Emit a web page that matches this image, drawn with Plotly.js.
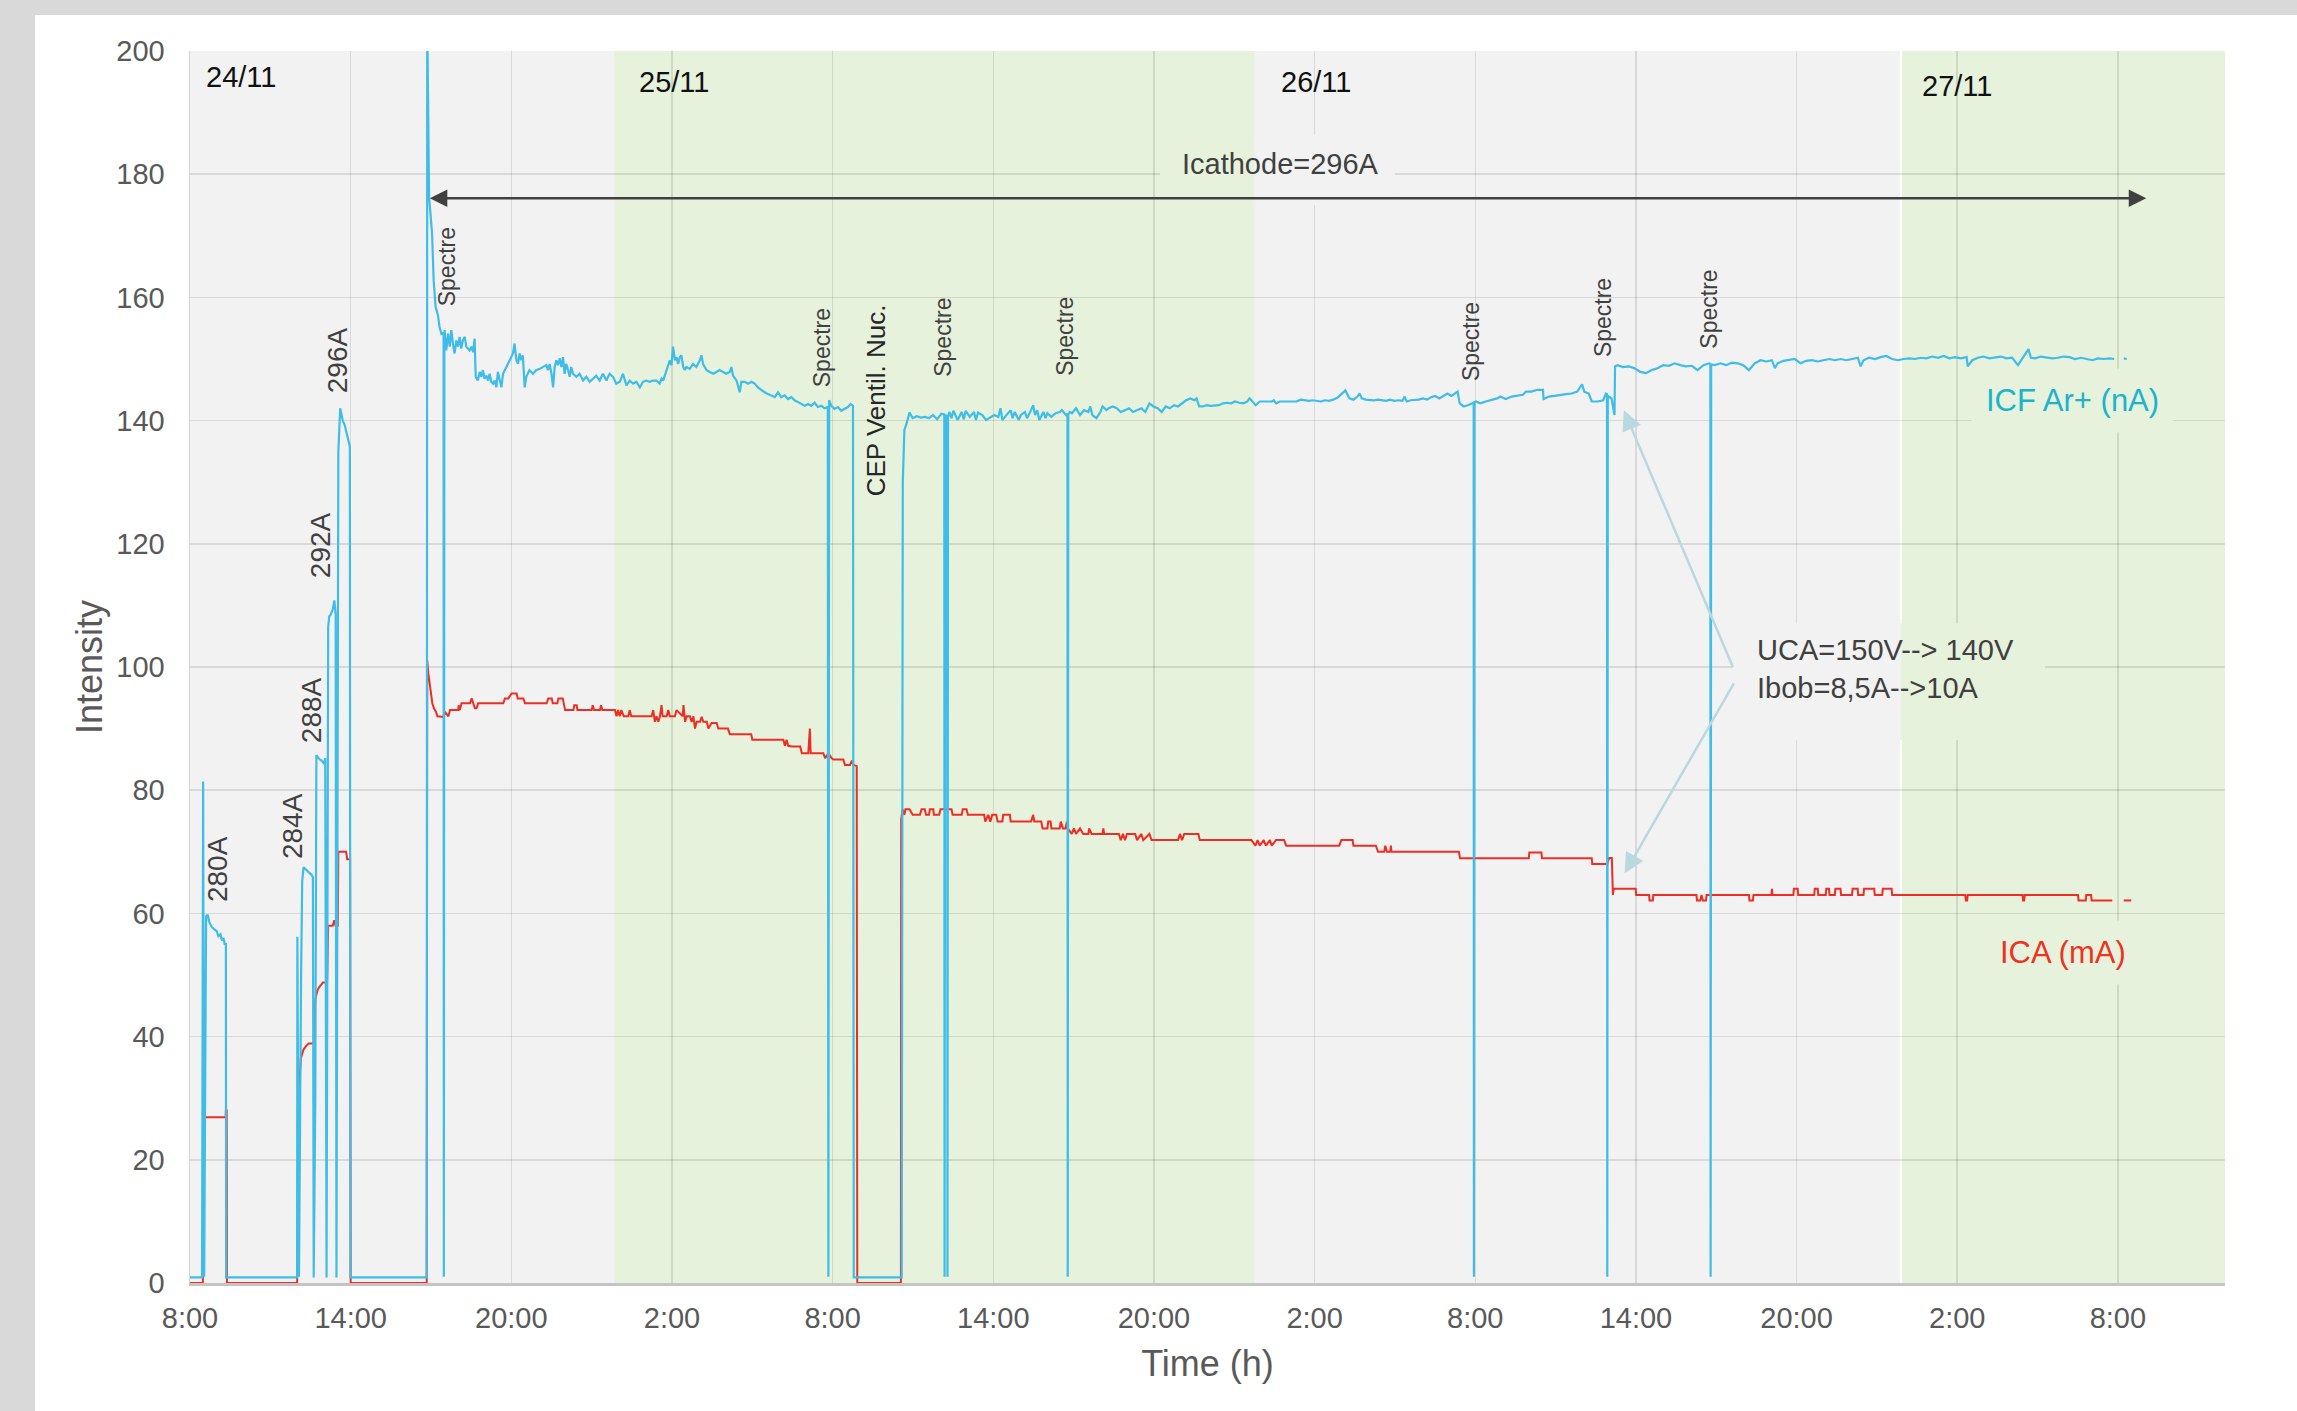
<!DOCTYPE html>
<html>
<head>
<meta charset="utf-8">
<script src="https://cdn.plot.ly/plotly-3.0.1.min.js"></script>
<style>
  html, body { margin: 0; padding: 0; background: #d9d9d9; width: 2297px; height: 1411px; overflow: hidden; }
  #chart { position: absolute; left: 35px; top: 15px; width: 2262px; height: 1396px; background: #ffffff; }
</style>
</head>
<body>
<div id="chart"></div>
<script>
// ---------------- DATA (hours since 24/11 00:00) ----------------
const tickHours = [8, 14, 20, 26, 32, 38, 44, 50, 56, 62, 68, 74, 80];
const tickLabels = ['8:00', '14:00', '20:00', '2:00', '8:00', '14:00', '20:00', '2:00', '8:00', '14:00', '20:00', '2:00', '8:00'];

const dayLabels = ['24/11', '25/11', '26/11', '27/11'];
const dayLabelHours = [9.9, 26.08, 50.05, 73.99];
const dayLabelValues = [195.8, 195.0, 195.0, 194.3];

const cathodeLabels = ['280A', '284A', '288A', '292A', '296A'];
const cathodeLabelHours = [9.01, 11.85, 12.52, 12.86, 13.49];
const cathodeLabelValues = [67.2, 74.2, 93.0, 119.8, 149.8];

const spectreHours = [17.60, 31.60, 36.12, 40.68, 55.84, 60.77, 64.75];
const spectreValues = [164.9, 151.9, 153.6, 153.6, 152.9, 156.8, 158.1];

// day bands (green)
const greenBands = [[23.85, 47.75], [71.9, 84]];

// ICF Ar+ (nA) : [hour, value]
const icfSeries = [
[8.0,0.9],[8.45,0.9],[8.49,81.4],[8.53,1.0],[8.6,59.5],[8.66,59.8],[8.72,58.6],[8.81,57.8],[8.91,57.4],[9.0,57.1],[9.06,56.3],[9.14,56.6],[9.19,55.6],[9.25,56.0],[9.3,54.9],[9.34,55.2],[9.35,0.9],
[12.0,0.9],[12.01,56.2],[12.07,1.0],[12.15,50.5],[12.19,65.2],[12.24,67.5],[12.34,67.0],[12.43,66.7],[12.53,66.3],[12.59,65.9],[12.62,0.9],[12.68,30],[12.72,85.7],[12.82,85.1],[12.91,84.8],[13.01,84.3],[13.05,85.2],[13.1,0.9],
[13.16,106.5],[13.2,108.2],[13.25,108.5],[13.33,109.3],[13.39,110.8],[13.44,108.6],[13.47,0.9],[13.54,135],[13.61,142.0],[13.66,140.8],[13.71,139.9],[13.77,139.4],[13.85,138.0],[13.92,136.4],[13.97,135.8],[13.99,0.9],
[16.84,0.9],[16.86,205],[16.93,176.3],[17.04,170.4],[17.10,162.8],[17.17,158.5],[17.26,157.1],[17.32,155.2],[17.39,154.1],[17.47,154.3],[17.48,1.0],[17.50,153.8],[17.51,154.7],[17.57,151.4],[17.64,154.1],[17.70,152.0],[17.76,154.7],[17.82,152.5],[17.88,150.9],[17.95,153.0],[18.01,152.0],[18.07,153.6],[18.13,151.7],[18.19,153.0],[18.26,153.6],[18.32,152.0],[18.38,151.7],[18.44,151.4],[18.51,152.0],[18.57,151.1],[18.63,153.3],[18.67,147.1],[18.75,146.5],[18.82,147.9],[18.88,147.1],[18.94,148.2],[19.00,146.8],[19.07,147.3],[19.13,146.5],[19.19,147.6],[19.25,146.3],[19.32,146.0],[19.38,146.5],[19.44,145.4],[19.50,147.9],[19.56,146.8],[19.63,145.4],[19.69,147.6],[19.75,148.2],[19.81,148.7],[19.88,149.2],[19.94,149.8],[20.06,150.9],[20.12,152.5],[20.19,149.8],[20.25,149.2],[20.31,150.9],[20.37,149.8],[20.43,150.6],[20.50,145.4],[20.56,147.1],[20.62,147.6],[20.68,148.2],[20.81,147.6],[20.93,148.2],[21.06,148.4],[21.18,148.7],[21.31,149.0],[21.37,148.2],[21.43,149.2],[21.50,147.6],[21.56,145.4],[21.62,148.7],[21.68,149.8],[21.74,149.0],[21.81,150.1],[21.87,148.7],[21.93,150.3],[21.99,147.6],[22.05,149.2],[22.12,148.2],[22.18,147.1],[22.24,148.7],[22.30,147.6],[22.43,147.1],[22.55,147.6],[22.68,146.5],[22.80,147.1],[22.93,146.3],[23.05,146.8],[23.17,147.3],[23.30,146.5],[23.42,147.6],[23.55,146.5],[23.67,147.6],[23.80,147.1],[23.92,146.0],[24.05,146.3],[24.17,147.6],[24.30,145.7],[24.42,146.5],[24.55,146.0],[24.67,146.3],[24.80,145.4],[24.92,146.3],[25.04,146.5],[25.17,146.3],[25.29,146.5],[25.42,146.5],[25.54,146.0],[25.61,146.8],[25.67,146.5],[25.79,148.2],[25.86,149.2],[25.92,149.8],[25.98,149.0],[26.04,152.0],[26.11,149.8],[26.17,150.3],[26.23,149.2],[26.29,150.3],[26.35,150.6],[26.42,148.7],[26.48,148.2],[26.54,148.7],[26.66,148.4],[26.79,149.2],[26.91,148.7],[27.04,149.8],[27.10,150.6],[27.16,149.2],[27.29,148.2],[27.41,147.9],[27.54,147.6],[27.66,147.9],[27.78,148.2],[27.91,147.9],[28.03,147.6],[28.16,147.9],[28.22,148.7],[28.28,147.3],[28.41,146.5],[28.53,144.6],[28.59,146.3],[28.72,146.3],[28.84,146.0],[28.97,146.3],[29.09,146.0],[29.21,145.4],[29.34,144.9],[29.46,144.6],[29.59,144.3],[29.71,144.1],[29.84,143.8],[29.96,144.6],[30.08,143.8],[30.21,144.1],[30.33,143.5],[30.46,143.8],[30.58,143.3],[30.71,143.0],[30.83,142.7],[30.96,142.4],[31.08,142.7],[31.20,142.4],[31.33,142.9],[31.45,142.2],[31.58,142.4],[31.70,142.0],[31.82,142.2],[31.84,1.0],[31.87,143.3],[31.95,142.4],[32.07,141.9],[32.20,142.2],[32.32,141.6],[32.45,141.9],[32.57,142.2],[32.67,142.7],[32.76,142.4],[32.79,0.9],
[34.58,0.9],[34.62,130],[34.68,138.5],[34.76,139.5],[34.87,141.3],[34.99,140.4],[35.14,140.7],[35.29,140.5],[35.44,140.6],[35.60,140.4],[35.75,140.9],[35.90,140.2],[36.06,141.1],[36.17,141.0],[36.18,1.0],[36.21,140.8],[36.28,140.8],[36.29,1.0],[36.31,140.5],[36.36,141.4],[36.44,140.4],[36.51,141.6],[36.67,140.1],[36.82,141.4],[36.90,140.2],[36.97,141.6],[37.12,140.6],[37.28,141.4],[37.35,140.1],[37.43,141.3],[37.59,140.9],[37.73,140.1],[37.89,140.5],[38.04,140.9],[38.19,140.6],[38.27,142.0],[38.34,140.1],[38.50,140.9],[38.65,141.7],[38.72,140.4],[38.80,141.4],[38.95,140.1],[39.03,140.9],[39.18,141.4],[39.26,140.4],[39.41,141.7],[39.49,142.5],[39.56,140.9],[39.64,141.7],[39.72,140.1],[39.87,141.4],[39.95,140.4],[40.02,141.2],[40.17,140.6],[40.33,141.2],[40.48,141.4],[40.56,141.7],[40.71,140.9],[40.77,141.1],[40.78,1.0],[40.80,141.0],[40.86,141.4],[40.94,141.2],[41.09,142.0],[41.24,140.9],[41.39,141.7],[41.55,141.4],[41.62,142.3],[41.70,140.9],[41.85,140.4],[42.00,141.4],[42.08,142.3],[42.23,141.7],[42.31,142.0],[42.46,142.3],[42.61,142.0],[42.76,141.4],[42.92,141.7],[43.07,142.0],[43.22,141.4],[43.38,141.7],[43.53,142.0],[43.68,141.4],[43.83,142.8],[43.98,142.3],[44.14,142.0],[44.29,141.4],[44.44,142.3],[44.59,142.0],[44.75,142.5],[44.90,142.3],[45.05,142.8],[45.20,143.3],[45.36,143.6],[45.51,143.3],[45.59,143.6],[45.69,142.3],[45.82,142.3],[45.97,142.5],[46.12,142.4],[46.27,142.5],[46.42,142.5],[46.58,142.8],[46.73,142.9],[46.88,142.8],[47.03,143.1],[47.19,142.9],[47.34,142.8],[47.49,143.1],[47.57,143.6],[47.64,143.3],[47.80,142.5],[47.95,143.1],[48.10,143.1],[48.25,143.2],[48.40,143.1],[48.48,143.3],[48.56,142.8],[48.71,143.1],[48.86,143.1],[49.01,143.1],[49.17,143.2],[49.32,143.1],[49.48,143.4],[49.63,143.3],[49.78,143.2],[49.93,143.3],[50.08,143.2],[50.24,143.1],[50.39,143.3],[50.54,143.2],[50.69,143.4],[50.85,143.7],[51.00,144.3],[51.15,144.9],[51.23,144.2],[51.30,143.6],[51.45,143.4],[51.60,143.9],[51.68,144.4],[51.76,143.6],[51.91,143.4],[52.06,143.3],[52.21,143.3],[52.37,143.4],[52.52,143.3],[52.67,143.2],[52.82,143.4],[52.98,143.2],[53.13,143.3],[53.28,143.2],[53.36,143.9],[53.44,143.1],[53.59,143.3],[53.74,143.3],[53.89,143.4],[54.05,143.6],[54.20,143.4],[54.35,143.8],[54.50,144.0],[54.66,143.6],[54.81,144.0],[54.96,144.4],[55.11,144.0],[55.27,144.4],[55.34,144.7],[55.42,142.8],[55.57,142.3],[55.72,142.5],[55.87,142.8],[55.94,142.9],[55.95,1.0],[55.97,143.0],[56.03,143.1],[56.18,142.8],[56.39,143.1],[56.61,143.3],[56.82,143.6],[56.93,143.9],[57.14,143.5],[57.36,143.9],[57.57,144.0],[57.78,144.2],[57.89,144.7],[58.10,144.7],[58.32,145.0],[58.53,145.0],[58.55,143.5],[58.75,143.9],[58.96,144.0],[59.17,144.2],[59.39,144.3],[59.60,144.4],[59.81,144.7],[59.99,145.9],[60.07,144.7],[60.24,144.4],[60.35,143.1],[60.56,143.1],[60.78,143.3],[60.88,144.4],[60.92,144.3],[60.93,1.0],[60.95,144.0],[61.09,143.6],[61.20,140.9],[61.22,148.8],[61.31,149.0],[61.52,148.7],[61.74,148.8],[61.95,148.5],[62.16,147.9],[62.38,147.7],[62.59,148.2],[62.80,148.5],[63.02,149.0],[63.23,148.9],[63.45,149.3],[63.66,149.0],[63.87,148.8],[64.09,148.9],[64.30,148.2],[64.52,149.0],[64.73,149.3],[64.78,149.2],[64.79,1.0],[64.81,149.1],[64.94,149.0],[65.16,149.3],[65.37,149.0],[65.58,149.4],[65.80,149.3],[66.01,149.0],[66.22,148.2],[66.44,149.3],[66.65,149.8],[66.87,149.6],[67.08,149.8],[67.19,148.5],[67.29,149.3],[67.51,149.7],[67.72,149.8],[67.93,150.0],[68.15,149.3],[68.36,149.7],[68.58,149.8],[68.79,149.6],[69.00,149.8],[69.22,150.0],[69.43,149.8],[69.65,150.0],[69.86,149.8],[70.07,150.0],[70.29,150.2],[70.39,148.8],[70.50,149.8],[70.71,150.2],[70.93,150.0],[71.14,150.3],[71.35,150.5],[71.57,150.0],[71.78,149.8],[72.00,150.0],[72.21,150.1],[72.42,150.0],[72.64,150.2],[72.85,150.1],[73.06,150.4],[73.28,150.2],[73.49,150.5],[73.71,150.1],[73.92,150.3],[74.13,150.1],[74.35,150.3],[74.39,148.8],[74.56,149.8],[74.77,150.2],[74.98,150.4],[75.20,150.1],[75.41,150.3],[75.63,150.4],[75.84,150.1],[76.05,150.2],[76.27,149.0],[76.48,150.3],[76.66,151.6],[76.75,150.2],[76.91,150.1],[77.12,150.4],[77.34,150.3],[77.55,150.1],[77.76,150.2],[77.98,150.4],[78.19,150.3],[78.40,150.0],[78.62,150.2],[78.83,150.0],[79.05,149.8],[79.26,150.1],[79.47,150.0],[79.69,150.1],[79.86,150.0],[80.0,null],[80.22,150.1],[80.33,150.0]
];

// ICA (mA) : [hour, value]
const icaSeries = [
[8.0,0],[8.48,0],[8.49,25.8],[8.57,26.9],[9.33,26.9],[9.34,28.0],[9.37,28.0],[9.38,0],[12.0,0],[12.05,29.8],[12.14,36.5],[12.24,37.9],[12.34,38.5],[12.43,38.9],[12.62,38.9],[12.68,46.0],[12.76,47.5],[12.82,48.0],[12.97,48.8],[13.12,48.8],[13.16,58.0],[13.33,58.0],[13.39,58.9],[13.44,58.0],[13.52,58.0],[13.54,70.0],[13.83,70.0],[13.87,68.8],[13.98,68.8],[14.0,0],
[16.84,0],[16.86,101.1],[16.90,99.0],[16.99,96.0],[17.05,94.1],[17.11,93.3],[17.19,92.7],[17.24,92.0],[17.34,91.9],[17.46,91.9],[17.52,92.7],[17.65,92.0],[17.71,93.0],[18.02,93.0],[18.03,93.8],[18.08,93.0],[18.14,94.1],[18.46,94.1],[18.52,94.9],[18.58,94.1],[18.64,93.3],[18.70,93.3],[18.76,94.1],[19.70,94.1],[19.76,94.9],[19.89,94.9],[20.01,95.7],[20.20,95.7],[20.24,94.9],[20.45,94.9],[20.51,94.1],[21.32,94.1],[21.38,94.9],[21.51,94.9],[21.55,94.1],[21.72,94.1],[21.76,94.9],[21.92,94.9],[22.01,93.0],[22.32,93.0],[22.35,93.8],[22.44,93.8],[22.47,93.0],[23.00,93.0],[23.04,93.8],[23.09,93.0],[23.31,93.0],[23.35,93.8],[23.40,93.0],[23.87,93.0],[23.93,92.0],[23.99,93.0],[24.05,92.0],[24.11,93.0],[24.20,92.0],[24.37,92.0],[24.42,93.0],[24.48,92.0],[25.24,92.0],[25.30,93.0],[25.36,91.1],[25.42,92.0],[25.49,91.1],[25.55,92.0],[25.61,93.8],[25.65,92.0],[25.80,92.0],[25.86,93.0],[25.92,92.0],[26.11,92.0],[26.17,93.0],[26.40,92.0],[26.43,93.8],[26.49,91.1],[26.55,92.0],[26.67,92.0],[26.73,91.1],[26.80,92.0],[26.86,90.0],[26.92,91.1],[27.05,91.1],[27.11,91.9],[27.17,91.1],[27.30,91.1],[27.36,90.0],[27.48,90.9],[27.67,90.9],[27.73,90.0],[28.09,90.0],[28.16,89.1],[28.96,89.1],[29.00,88.2],[30.16,88.2],[30.22,87.2],[30.28,88.2],[30.34,87.2],[30.48,87.1],[30.79,87.1],[30.85,86.0],[31.09,86.0],[31.15,90.0],[31.18,86.0],[31.65,86.0],[31.72,85.2],[31.84,86.0],[31.96,85.2],[32.02,85.0],[32.40,85.0],[32.46,84.1],[32.65,84.1],[32.72,84.8],[32.77,84.1],[32.90,83.9],[32.92,0],
[34.55,0],[34.56,75.2],[34.61,76.9],[34.68,76.0],[34.72,76.9],[34.87,76.9],[34.99,76.0],[35.26,76.0],[35.32,76.9],[35.44,76.9],[35.49,76.0],[35.60,76.0],[35.63,76.9],[35.76,76.9],[35.78,76.0],[35.98,76.0],[36.03,76.9],[36.44,76.9],[36.48,76.0],[36.82,76.0],[36.86,76.9],[37.00,76.9],[37.05,76.0],[37.66,76.0],[37.70,74.9],[37.81,76.0],[37.89,74.9],[37.96,76.0],[38.11,76.0],[38.16,74.9],[38.34,74.9],[38.37,76.0],[38.62,76.0],[38.65,74.9],[39.41,74.9],[39.49,76.0],[39.53,74.9],[39.79,74.9],[39.84,73.8],[40.02,73.8],[40.05,74.9],[40.14,74.9],[40.17,73.8],[40.48,73.8],[40.52,74.9],[40.60,73.8],[40.70,73.8],[40.75,74.9],[40.78,73.8],[40.93,72.9],[41.01,73.8],[41.09,72.9],[41.24,73.8],[41.36,72.9],[41.55,72.9],[41.58,73.8],[41.67,72.9],[42.08,72.9],[42.11,73.8],[42.14,72.9],[42.69,72.9],[42.76,71.9],[42.84,72.9],[42.92,71.9],[42.99,72.9],[43.30,72.9],[43.37,71.9],[43.53,72.9],[43.60,71.9],[43.83,72.9],[43.91,71.9],[44.14,71.9],[44.90,71.9],[44.97,72.9],[45.05,71.9],[45.13,72.9],[45.66,72.9],[45.71,71.9],[47.64,71.9],[47.79,71.0],[47.87,71.9],[47.95,71.0],[48.10,71.9],[48.18,71.0],[48.33,71.9],[48.40,71.0],[48.56,71.9],[48.86,71.9],[48.94,71.0],[50.92,71.0],[51.0,71.9],[51.42,71.9],[51.45,71.0],[52.29,71.0],[52.37,70.0],[52.60,70.0],[52.64,71.0],[52.70,70.0],[52.82,70.0],[52.85,71.0],[52.87,70.0],[55.39,70.0],[55.43,68.95],[58.0,68.95],[58.02,69.9],[58.47,69.9],[58.49,68.95],[60.35,68.95],[60.37,68.0],[60.93,68.0],[61.0,69.0],[61.10,69.0],[61.14,63.0],[61.17,64.0],[61.99,64.0],[62.01,63.0],[62.49,63.0],[62.51,62.1],[62.63,62.1],[62.65,63.0],[64.26,63.0],[64.28,62.1],[64.40,62.1],[64.45,63.0],[64.50,62.1],[64.62,62.1],[64.64,63.0],[66.22,63.0],[66.24,62.1],[66.37,62.1],[66.39,63.0],[67.06,63.0],[67.08,64.0],[67.10,63.0],[67.88,63.0],[67.90,64.0],[68.04,64.0],[68.06,63.0],[68.66,63.0],[68.68,64.0],[68.79,64.0],[68.81,63.0],[69.09,63.0],[69.11,64.0],[69.21,64.0],[69.23,63.0],[69.43,63.0],[69.45,64.0],[69.64,64.0],[69.66,63.0],[70.07,63.0],[70.09,64.0],[70.28,64.0],[70.30,63.0],[70.50,63.0],[70.52,64.0],[70.90,64.0],[70.92,63.0],[71.20,63.0],[71.22,64.0],[71.55,64.0],[71.57,63.0],[74.30,63.0],[74.32,62.1],[74.37,62.1],[74.39,63.0],[76.44,63.0],[76.46,62.1],[76.50,62.1],[76.52,63.0],[78.51,63.0],[78.53,62.1],[78.80,62.1],[78.82,63.0],[79.00,63.0],[79.02,62.1],[79.79,62.1],[80.0,null],[80.22,62.1],[80.50,62.1]
];

// ---------------- STYLE ----------------
const FONT = 'Liberation Sans, Arial, sans-serif';
const GREEN = 'rgb(230,242,219)';
const GRAYBG = '#f2f2f2';
const BLUE = '#3fbde8';
const RED = '#ee2e24';
const TEXTC = '#404040';

const traces = [
  { x: icaSeries.map(p => p[0]), y: icaSeries.map(p => p[1]), type: 'scatter', mode: 'lines',
    line: { color: RED, width: 2 }, connectgaps: false, name: 'ICA (mA)', hoverinfo: 'skip' },
  { x: icfSeries.map(p => p[0]), y: icfSeries.map(p => p[1]), type: 'scatter', mode: 'lines',
    line: { color: BLUE, width: 2.2 }, connectgaps: false, name: 'ICF Ar+ (nA)', hoverinfo: 'skip' }
];

const shapes = [];
greenBands.forEach(b => shapes.push({ type: 'rect', xref: 'x', yref: 'paper', x0: b[0], x1: b[1], y0: 0, y1: 1,
  fillcolor: GREEN, line: { width: 0 }, layer: 'below' }));
shapes.push({ type: 'line', xref: 'x', yref: 'paper', x0: greenBands[1][0], x1: greenBands[1][0], y0: 0, y1: 1,
  line: { color: '#ffffff', width: 2 }, layer: 'below' });
// label boxes hiding grid lines (split at band edges)
function box(x0, x1, y0, y1) {
  const parts = [];
  let cuts = [x0];
  greenBands.forEach(b => { b.forEach(e => { if (e > x0 && e < x1) cuts.push(e); }); });
  cuts.push(x1);
  cuts.sort((a, b) => a - b);
  for (let i = 0; i < cuts.length - 1; i++) {
    const mid = (cuts[i] + cuts[i + 1]) / 2;
    const inGreen = greenBands.some(b => mid > b[0] && mid < b[1]);
    parts.push({ type: 'rect', xref: 'x', yref: 'y', x0: cuts[i], x1: cuts[i + 1], y0: y0, y1: y1,
      fillcolor: inGreen ? GREEN : GRAYBG, line: { width: 0 }, layer: 'between' });
  }
  return parts;
}
box(44.23, 53.0, 175.0, 186.4).forEach(s => shapes.push(s));
box(65.63, 77.28, 88.1, 107.1).forEach(s => shapes.push(s));

const annotations = [];
dayLabels.forEach((t, i) => annotations.push({ x: dayLabelHours[i], y: dayLabelValues[i], xref: 'x', yref: 'y',
  text: t, showarrow: false, xanchor: 'center', yanchor: 'middle', font: { family: FONT, size: 29, color: '#111111' } }));
cathodeLabels.forEach((t, i) => annotations.push({ x: cathodeLabelHours[i], y: cathodeLabelValues[i], xref: 'x', yref: 'y',
  text: t, showarrow: false, textangle: -90, xanchor: 'center', yanchor: 'middle', font: { family: FONT, size: 28, color: TEXTC } }));
spectreHours.forEach((h, i) => annotations.push({ x: h, y: spectreValues[i], xref: 'x', yref: 'y',
  text: 'Spectre', showarrow: false, textangle: -90, xanchor: 'center', yanchor: 'middle', font: { family: FONT, size: 23, color: TEXTC } }));
annotations.push({ x: 33.62, y: 143.3, xref: 'x', yref: 'y', text: 'CEP Ventil. Nuc.', showarrow: false, textangle: -90,
  xanchor: 'center', yanchor: 'middle', font: { family: FONT, size: 26, color: '#262626' } });
annotations.push({ x: 48.71, y: 181.7, xref: 'x', yref: 'y', text: 'Icathode=296A', showarrow: false,
  xanchor: 'center', yanchor: 'middle', font: { family: FONT, size: 29, color: TEXTC } });
annotations.push({ x: 81.06, y: 176.1, ax: 16.9, ay: 176.1, xref: 'x', yref: 'y', axref: 'x', ayref: 'y', text: '',
  showarrow: true, arrowhead: 2, arrowside: 'end+start', arrowsize: 1.4, arrowwidth: 2.5, arrowcolor: TEXTC });
annotations.push({ x: 66.45, y: 99.7, xref: 'x', yref: 'y', text: 'UCA=150V--&gt; 140V<br>Ibob=8,5A--&gt;10A', showarrow: false,
  align: 'left', xanchor: 'left', yanchor: 'middle', font: { family: FONT, size: 29, color: TEXTC } });
annotations.push({ x: 61.55, y: 141.7, ax: 65.64, ay: 99.8, xref: 'x', yref: 'y', axref: 'x', ayref: 'y', text: '',
  showarrow: true, arrowhead: 2, arrowsize: 1.6, arrowwidth: 2.5, arrowcolor: '#b9d9de' });
annotations.push({ x: 61.58, y: 66.5, ax: 65.69, ay: 97.6, xref: 'x', yref: 'y', axref: 'x', ayref: 'y', text: '',
  showarrow: true, arrowhead: 2, arrowsize: 1.6, arrowwidth: 2.5, arrowcolor: '#b9d9de' });
annotations.push({ x: 78.29, y: 143.2, xref: 'x', yref: 'y', text: 'ICF Ar+ (nA)', showarrow: false,
  xanchor: 'center', yanchor: 'middle', bgcolor: GREEN, borderpad: 14, font: { family: FONT, size: 31, color: '#1db3cc' } });
annotations.push({ x: 77.95, y: 53.7, xref: 'x', yref: 'y', text: 'ICA (mA)', showarrow: false,
  xanchor: 'center', yanchor: 'middle', bgcolor: GREEN, borderpad: 14, font: { family: FONT, size: 31, color: '#ee3322' } });

const layout = {
  width: 2262, height: 1396,
  margin: { l: 155, r: 72, t: 36, b: 128 },
  paper_bgcolor: '#ffffff', plot_bgcolor: GRAYBG,
  showlegend: false, hovermode: false,
  font: { family: FONT, color: '#595959' },
  xaxis: {
    range: [8, 84], tickmode: 'array', tickvals: tickHours, ticktext: tickLabels,
    showgrid: true, gridcolor: 'rgba(0,0,0,0.1)', gridwidth: 1.5, zeroline: false,
    showline: true, linecolor: '#c4c4c4', linewidth: 2.5, ticks: '', ticklabelstandoff: 8,
    tickfont: { family: FONT, size: 29, color: '#595959' },
    title: { text: 'Time (h)', font: { family: FONT, size: 36, color: '#595959' }, standoff: 18 }
  },
  yaxis: {
    range: [0, 200], tickmode: 'linear', tick0: 0, dtick: 20,
    showgrid: true, gridcolor: 'rgba(0,0,0,0.1)', gridwidth: 1.5, zeroline: false,
    showline: true, linecolor: '#d4d4d4', linewidth: 1.5, ticks: '', ticklabelstandoff: 18,
    tickfont: { family: FONT, size: 29, color: '#595959' },
    title: { text: 'Intensity', font: { family: FONT, size: 36, color: '#595959' }, standoff: 2 }
  },
  shapes: shapes,
  annotations: annotations
};

Plotly.newPlot('chart', traces, layout, { displayModeBar: false, staticPlot: true });
</script>
</body>
</html>
